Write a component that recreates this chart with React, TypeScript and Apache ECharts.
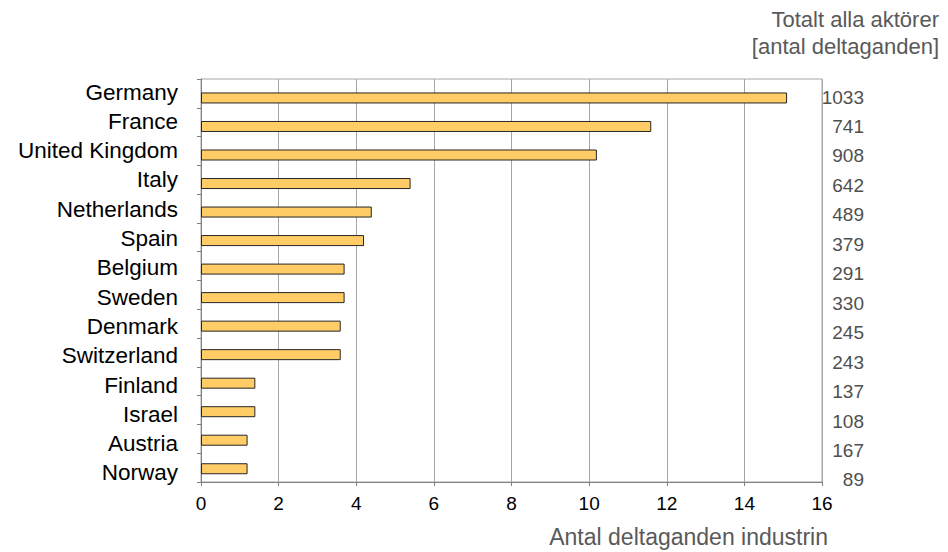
import React, { useEffect, useRef } from "react";
import * as echarts from "echarts";

// Participation in the industry, per country (thousands scale on x)
const countries = [
  "Germany",
  "France",
  "United Kingdom",
  "Italy",
  "Netherlands",
  "Spain",
  "Belgium",
  "Sweden",
  "Denmark",
  "Switzerland",
  "Finland",
  "Israel",
  "Austria",
  "Norway",
];
const industryParticipation = [15.1, 11.6, 10.2, 5.4, 4.4, 4.2, 3.7, 3.7, 3.6, 3.6, 1.4, 1.4, 1.2, 1.2];
const totalAllActors = ["1033", "741", "908", "642", "489", "379", "291", "330", "245", "243", "137", "108", "167", "89"];
const xTicks = { min: 0, max: 16, interval: 2 };

const titleLines = ["Totalt alla aktörer", "[antal deltaganden]"];
const xAxisTitle = "Antal deltaganden industrin";

const FONT = "'Liberation Sans', Arial, sans-serif";
const GRID_GRAY = "#a6a6a6";
const AXIS_GRAY = "#808080";
const LABEL_GRAY = "#505050";

export default function App() {
  const ref = useRef<HTMLDivElement>(null);

  useEffect(() => {
    if (!ref.current) return;
    const chart = echarts.init(ref.current, undefined, { renderer: "svg" });

    const W = 948;
    const H = 552;
    const plotLeft = 201;
    const plotRight = W - 822;

    chart.setOption({
      animation: false,
      backgroundColor: "#ffffff",
      textStyle: { fontFamily: FONT },
      grid: [
        // frame, gridlines, x axis and category ticks
        { left: plotLeft, right: plotRight, top: 79, bottom: H - 482, show: true, borderColor: GRID_GRAY, borderWidth: 1, containLabel: false },
        // bars
        { left: plotLeft, right: plotRight, top: 83.7, bottom: H - 483, containLabel: false },
        // country labels
        { left: plotLeft, right: plotRight, top: 77.4, bottom: H - 487.6, containLabel: false },
        // totals on the right
        { left: plotLeft, right: plotRight, top: 82.3, bottom: H - 494.7, containLabel: false },
      ],
      xAxis: [
        {
          gridIndex: 0,
          type: "value",
          min: xTicks.min,
          max: xTicks.max,
          interval: xTicks.interval,
          axisLine: { show: true, lineStyle: { color: AXIS_GRAY, width: 1 } },
          axisTick: { show: true, inside: false, length: 4, lineStyle: { color: AXIS_GRAY } },
          axisLabel: { color: "#000", fontSize: 19, margin: 12, fontFamily: FONT },
          splitLine: { show: true, lineStyle: { color: GRID_GRAY, width: 1 } },
        },
        { gridIndex: 1, type: "value", min: xTicks.min, max: xTicks.max, show: false },
        { gridIndex: 2, type: "value", min: xTicks.min, max: xTicks.max, show: false },
        { gridIndex: 3, type: "value", min: xTicks.min, max: xTicks.max, show: false },
      ],
      yAxis: [
        {
          gridIndex: 0,
          type: "category",
          inverse: true,
          data: countries,
          axisLine: { show: true, lineStyle: { color: AXIS_GRAY, width: 1 } },
          axisTick: { show: true, length: 4, interval: 0, lineStyle: { color: AXIS_GRAY } },
          axisLabel: { show: false },
          splitLine: { show: false },
        },
        {
          gridIndex: 1,
          type: "category",
          inverse: true,
          data: countries,
          show: false,
        },
        {
          gridIndex: 2,
          type: "category",
          inverse: true,
          data: countries,
          axisLine: { show: false },
          axisTick: { show: false },
          axisLabel: { color: "#000", fontSize: 22.5, margin: 23, interval: 0, fontFamily: FONT },
        },
        {
          gridIndex: 3,
          type: "category",
          position: "right",
          inverse: true,
          data: totalAllActors,
          axisLine: { show: false },
          axisTick: { show: false },
          axisLabel: { color: LABEL_GRAY, fontSize: 19, margin: 42, align: "right", interval: 0, fontFamily: FONT },
        },
      ],
      series: [
        {
          type: "bar",
          xAxisIndex: 1,
          yAxisIndex: 1,
          data: industryParticipation,
          barWidth: 11,
          itemStyle: { color: "#ffcc66", borderColor: "#262626", borderWidth: 1 },
          silent: true,
        },
      ],
      graphic: [
        {
          type: "text",
          x: 939,
          y: 6,
          style: {
            text: titleLines.join("\n"),
            fill: "#595959",
            font: `22px ${FONT}`,
            lineHeight: 27,
            align: "right",
          },
        },
        {
          type: "text",
          x: 828,
          y: 525,
          style: {
            text: xAxisTitle,
            fill: "#595959",
            font: `23px ${FONT}`,
            align: "right",
          },
        },
      ],
    });

    return () => chart.dispose();
  }, []);

  return (
    <div
      ref={ref}
      style={{ position: "fixed", left: 0, top: 0, width: 948, height: 552, background: "#fff" }}
    />
  );
}
